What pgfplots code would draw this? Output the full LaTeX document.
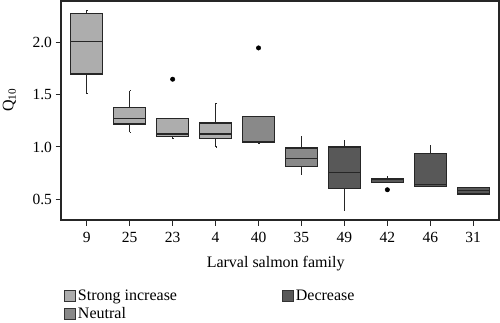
\documentclass[border=0pt]{standalone}
\usepackage{pgfplots}
\pgfplotsset{compat=1.18}
\usepgfplotslibrary{statistics}
\usepackage{fontspec}
\setmainfont{Liberation Serif}
\definecolor{sinc}{HTML}{ADADAD}
\definecolor{neut}{HTML}{898989}
\definecolor{decr}{HTML}{585858}
\begin{document}
\begin{tikzpicture}
\begin{axis}[
  scale only axis, width=438pt, height=219pt,
  xmin=-0.6, xmax=9.6, ymin=0.3, ymax=2.4,
  xtick={0,...,9}, xticklabels={9,25,23,4,40,35,49,42,46,31},
  ytick={0.5,1,1.5,2},
  yticklabel style={/pgf/number format/.cd,fixed,fixed zerofill,precision=1,assume math mode=true},
  xticklabel style={yshift=-3pt},
  tick pos=left, tick align=outside, major tick length=5.5pt,
  axis line style={line width=1.3pt, black!85},
  tick style={line width=1pt, black!85},
  ticklabel style={font=\fontsize{15.5}{17}\selectfont},
  label style={font=\fontsize{16}{18}\selectfont},
  xlabel={Larval salmon family}, ylabel={Q\textsubscript{10}},
  xlabel style={at={(axis description cs:0.49,-0.197)}, anchor=center},
  ylabel style={at={(axis description cs:-0.118,0.548)}, anchor=center},
  boxplot/draw direction=y,
  legend columns=2,
  legend style={at={(axis description cs:0,-0.30)}, anchor=north west, draw=none, fill=none,
    legend cell align=left, font=\fontsize{16}{18}\selectfont, row sep=1.5pt,
    /tikz/every even column/.append style={column sep=103pt}},
  legend image code/.code={\draw[#1, line width=0.8pt] (0pt,-5.5pt) rectangle (11pt,5.5pt);},
]
\addlegendimage{fill=sinc, draw=black!80}
\addlegendentry{Strong increase}
\addlegendimage{fill=decr, draw=black!80}
\addlegendentry{Decrease}
\addlegendimage{fill=neut, draw=black!80}
\addlegendentry{Neutral}
\pgfplotsset{bx/.style={draw=black!85, line width=1.2pt, mark=*, mark size=2.2pt, mark options={fill=black, draw=black, line width=0.5pt}, boxplot/box extend=0.75, boxplot/whisker extend=0.001}}
\addplot[bx, fill=sinc, boxplot prepared={draw position=0, lower whisker=1.51, lower quartile=1.70, median=2.01, upper quartile=2.28, upper whisker=2.31}] coordinates {};
\addplot[bx, fill=sinc, boxplot prepared={draw position=1, lower whisker=1.14, lower quartile=1.22, median=1.27, upper quartile=1.38, upper whisker=1.54}] coordinates {};
\addplot[bx, fill=sinc, boxplot prepared={draw position=2, lower whisker=1.08, lower quartile=1.10, median=1.125, upper quartile=1.27, upper whisker=1.27}] coordinates {(0,1.65)};
\addplot[bx, fill=sinc, boxplot prepared={draw position=3, lower whisker=1.00, lower quartile=1.08, median=1.125, upper quartile=1.23, upper whisker=1.42}] coordinates {};
\addplot[bx, fill=neut, boxplot prepared={draw position=4, lower whisker=1.03, lower quartile=1.045, median=1.05, upper quartile=1.29, upper whisker=1.29}] coordinates {(0,1.95)};
\addplot[bx, fill=neut, boxplot prepared={draw position=5, lower whisker=0.74, lower quartile=0.81, median=0.89, upper quartile=0.99, upper whisker=1.10}] coordinates {};
\addplot[bx, fill=decr, boxplot prepared={draw position=6, lower whisker=0.39, lower quartile=0.605, median=0.755, upper quartile=1.00, upper whisker=1.06}] coordinates {};
\addplot[bx, fill=decr, boxplot prepared={draw position=7, lower whisker=0.66, lower quartile=0.66, median=0.685, upper quartile=0.70, upper whisker=0.72}] coordinates {(0,0.59)};
\addplot[bx, fill=decr, boxplot prepared={draw position=8, lower whisker=0.62, lower quartile=0.62, median=0.64, upper quartile=0.94, upper whisker=1.01}] coordinates {};
\addplot[bx, fill=decr, boxplot prepared={draw position=9, lower whisker=0.55, lower quartile=0.55, median=0.58, upper quartile=0.61, upper whisker=0.61}] coordinates {};
\coordinate (bl) at (rel axis cs:0,0);
\coordinate (tr) at (rel axis cs:1,1);
\end{axis}
\pgfresetboundingbox
\path (bl) ++(-61pt,-103pt) (tr) ++(1pt,1pt);
\end{tikzpicture}
\end{document}
